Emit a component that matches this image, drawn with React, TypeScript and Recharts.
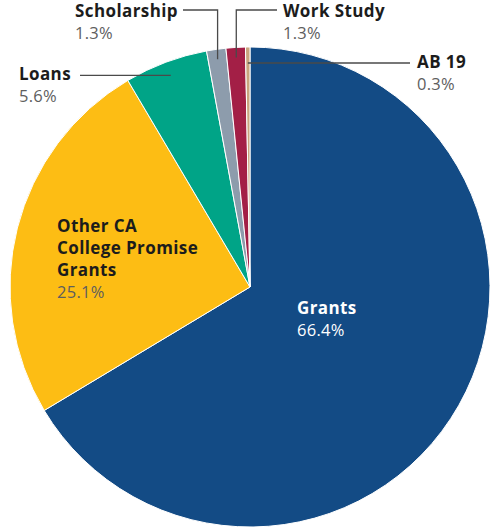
import React from "react";
import { PieChart, Pie, Cell } from "recharts";

const NAMES = ["Grants", "Other CA College Promise Grants", "Loans", "Scholarship", "Work Study", "AB 19"];
const VALUES = [66.4, 25.1, 5.6, 1.3, 1.3, 0.3];
const PCT_LABELS = ["66.4%", "25.1%", "5.6%", "1.3%", "1.3%", "0.3%"];
const TITLE_LINES = [["Grants"], ["Other CA", "College Promise", "Grants"], ["Loans"], ["Scholarship"], ["Work Study"], ["AB 19"]];
const COLORS = ["#134b85", "#fdbd14", "#00a487", "#8d9cac", "#a31f46", "#c9a57e"];

const data = NAMES.map((name, i) => ({ name, value: VALUES[i] }));

const RADIAN = Math.PI / 180;
const FONT = "'Open Sans', Lato, sans-serif";

// text placement for each label
const LABEL_POS = [
  { x: 297, y: 314, white: true },
  { x: 57, y: 232 },
  { x: 19, y: 80 },
  { x: 75, y: 16.5 },
  { x: 283, y: 16.5 },
  { x: 417, y: 68 },
];

const renderLabel = (props: any) => {
  const { cx, cy, midAngle, outerRadius, index } = props;
  const pos = LABEL_POS[index];
  const lines = TITLE_LINES[index];
  const polar = (r: number) => ({
    x: cx + r * Math.cos(-midAngle * RADIAN),
    y: cy + r * Math.sin(-midAngle * RADIAN),
  });

  let leader: string | null = null;
  if (index === 2) {
    const a = polar(outerRadius - 14);
    leader = `M80,${a.y}L${a.x},${a.y}`;
  } else if (index === 3) {
    const a = polar(outerRadius - 10);
    leader = `M183,10L${a.x},10L${a.x},${a.y}`;
  } else if (index === 4) {
    const a = polar(outerRadius - 10);
    leader = `M277,10L${a.x},10L${a.x},${a.y}`;
  } else if (index === 5) {
    const a = polar(outerRadius - 16);
    leader = `M${a.x},${a.y}L410,${a.y}`;
  }

  const titleFill = pos.white ? "#ffffff" : "#1c1c1c";
  const pctFill = pos.white ? "#ffffff" : "#5e5e5e";

  return (
    <g key={`label-${index}`}>
      {leader && <path d={leader} stroke="#4a4a4a" strokeWidth={1.3} fill="none" />}
      {lines.map((line, j) => (
        <text
          key={j}
          x={pos.x}
          y={pos.y + j * 22}
          fill={titleFill}
          fontFamily={FONT}
          fontSize={17}
          fontWeight={700}
          letterSpacing={0.4}
          textAnchor="start"
        >
          {line}
        </text>
      ))}
      <text
        x={pos.x}
        y={pos.y + lines.length * 22}
        fill={pctFill}
        fontFamily={FONT}
        fontSize={16.5}
        letterSpacing={0.3}
        textAnchor="start"
      >
        {PCT_LABELS[index]}
      </text>
    </g>
  );
};

export default function App() {
  return (
    <div style={{ width: 500, height: 528, background: "#ffffff" }}>
      <style>{"body{margin:0}"}</style>
      <PieChart width={500} height={528} margin={{ top: 0, right: 0, bottom: 0, left: 0 }}>
        <Pie
          data={data}
          dataKey="value"
          nameKey="name"
          cx={250}
          cy={287}
          outerRadius={240}
          startAngle={90}
          endAngle={-270}
          stroke="#ffffff"
          strokeWidth={1}
          label={renderLabel}
          labelLine={false}
          isAnimationActive={false}
        >
          {data.map((entry, index) => (
            <Cell key={`cell-${index}`} fill={COLORS[index]} />
          ))}
        </Pie>
      </PieChart>
    </div>
  );
}
